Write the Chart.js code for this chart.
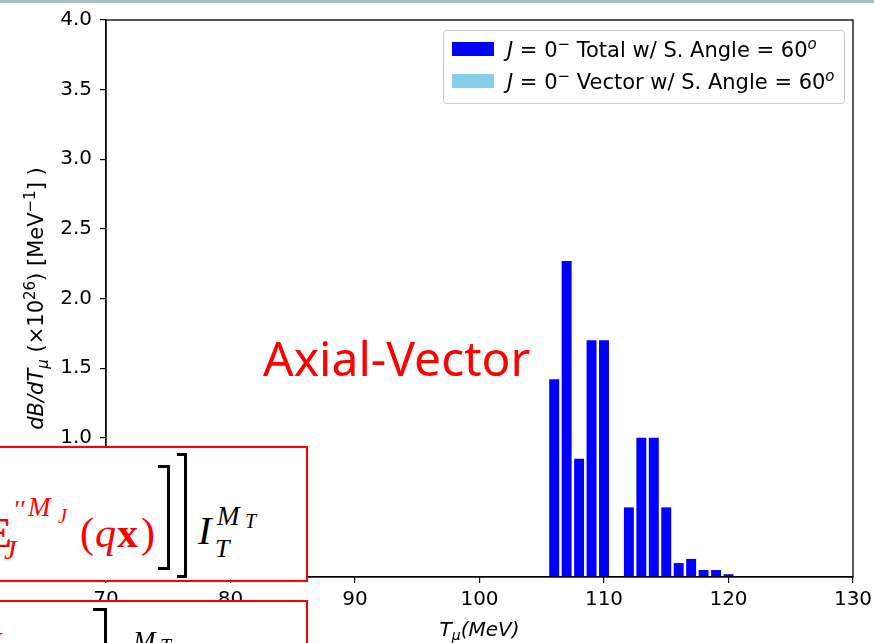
<!DOCTYPE html>
<html>
<head>
<meta charset="utf-8">
<script src="https://cdn.jsdelivr.net/npm/chart.js@4.4.1/dist/chart.umd.min.js"></script>
<style>
  html, body { margin: 0; padding: 0; background: #fff; }
  #wrap { position: relative; width: 874px; height: 643px; overflow: hidden; background: #fff; }
  #chart { position: absolute; left: 0; top: 0; }
  .topline { position: absolute; left: 0; top: 0; width: 874px; height: 3px; background: #a9bccb; }
  .tag { position: absolute; left: 263px; top: 334px; font-family: "Noto Sans", sans-serif; font-size: 48px; color: #ff0000; white-space: nowrap; line-height: 1; }
  .box { position: absolute; left: -4px; width: 312px; border: 2px solid #ff0000; background: #fff; box-sizing: border-box; }
  .m { position: absolute; font-family: "Liberation Serif", serif; font-style: italic; line-height: 1; white-space: nowrap; }
  .red { color: #ff0000; }
  .brk { position: absolute; border: 3px solid #000; border-left: none; box-sizing: border-box; }
</style>
</head>
<body>
<div id="wrap">
  <canvas id="chart" width="874" height="643"></canvas>
  <div class="topline"></div>
  <div class="tag">Axial-Vector</div>

  <div class="box" style="top:446px; height:136px;"></div>
  <div class="box" style="top:600px; height:60px;"></div>

  <!-- first operator line -->
  <span class="m red" style="left:-16px; top:512px; font-size:42px; font-weight:bold; font-style:normal;">E</span>
  <span class="m red" style="left:4px; top:536px; font-size:28px;">J</span>
  <span class="m red" style="left:13px; top:497px; font-size:26px;">′′</span>
  <span class="m red" style="left:28px; top:494px; font-size:27px;">M</span>
  <span class="m red" style="left:58px; top:506px; font-size:20px;">J</span>
  <span class="m red" style="left:80px; top:512px; font-size:42px; font-style:normal;">(</span>
  <span class="m red" style="left:95px; top:512px; font-size:42px;">q</span>
  <span class="m red" style="left:117px; top:512px; font-size:42px; font-style:normal; font-weight:bold;">x</span>
  <span class="m red" style="left:141px; top:512px; font-size:42px; font-style:normal;">)</span>
  <div class="brk" style="left:158px; top:465px; width:12px; height:105px;"></div>
  <div class="brk" style="left:177px; top:453px; width:10px; height:125px;"></div>
  <span class="m" style="left:198px; top:511px; font-size:40px;">I</span>
  <span class="m" style="left:215px; top:536px; font-size:26px;">T</span>
  <span class="m" style="left:217px; top:503px; font-size:27px;">M</span>
  <span class="m" style="left:245px; top:511px; font-size:20px;">T</span>

  <!-- second operator line, cut by the frame -->
  <span class="m red" style="left:-12px; top:628px; font-size:28px; font-weight:bold;">J</span>
  <div class="brk" style="left:93px; top:608px; width:14px; height:60px;"></div>
  <span class="m" style="left:133px; top:628px; font-size:27px;">M</span>
  <span class="m" style="left:160px; top:636px; font-size:20px;">T</span>
</div>

<script>
"use strict";

// muon kinetic energy bins (MeV) and branching-rate density (x10^26 / MeV)
var energies   = [106, 107, 108, 109, 110, 111, 112, 113, 114, 115, 116, 117, 118, 119, 120];
var totalRate  = [1.42, 2.27, 0.85, 1.70, 1.70, 0, 0.50, 1.00, 1.00, 0.50, 0.10, 0.13, 0.05, 0.05, 0.02];
var vectorRate = [0, 0, 0, 0, 0, 0, 0, 0, 0, 0, 0, 0, 0, 0, 0];

var xTicks = [70, 80, 90, 100, 110, 120, 130];
var yTicks = [0, 0.5, 1, 1.5, 2, 2.5, 3, 3.5, 4];

var FONT = "DejaVu Sans";
var FS = 20;      // tick labels
var FS_LEG = 21;  // legend and axis titles

var toPoints = function(vals) {
  return energies.map(function(e, i) { return { x: e, y: vals[i] }; });
};

// draw a run of text pieces: {t, it, sup, sub}
var drawRich = function(ctx, parts, x, y, size, align) {
  var fontFor = function(p) {
    var s = (p.sup || p.sub) ? Math.round(size * 0.7) : size;
    return (p.it ? "italic " : "") + s + "px '" + FONT + "'";
  };
  var w = 0;
  parts.forEach(function(p) { ctx.font = fontFor(p); w += ctx.measureText(p.t).width; });
  var cx = align === "center" ? x - w / 2 : x;
  ctx.textBaseline = "alphabetic";
  ctx.textAlign = "left";
  parts.forEach(function(p) {
    ctx.font = fontFor(p);
    var dy = p.sup ? -size * 0.38 : (p.sub ? size * 0.22 : 0);
    ctx.fillText(p.t, cx, y + dy);
    cx += ctx.measureText(p.t).width;
  });
  return w;
};

var legendRows = [
  { color: "#0000ff", parts: [{t: "J", it: true}, {t: " = 0"}, {t: "−", sup: true}, {t: " Total w/ S. Angle = 60"}, {t: "o", it: true, sup: true}] },
  { color: "#87ceeb", parts: [{t: "J", it: true}, {t: " = 0"}, {t: "−", sup: true}, {t: " Vector w/ S. Angle = 60"}, {t: "o", it: true, sup: true}] }
];

var frameAndLabels = {
  id: "frameAndLabels",
  afterDraw: function(chart) {
    var ctx = chart.ctx;
    var a = chart.chartArea;
    ctx.save();

    // full box around the axes
    ctx.strokeStyle = "#000";
    ctx.lineWidth = 1.3;
    ctx.strokeRect(a.left, a.top, a.right - a.left, a.bottom - a.top);

    // legend
    ctx.fillStyle = "rgba(255,255,255,0.8)";
    ctx.strokeStyle = "#cccccc";
    ctx.lineWidth = 1;
    ctx.beginPath();
    ctx.roundRect(443.5, 30.5, 401, 73, 3);
    ctx.fill();
    ctx.stroke();
    legendRows.forEach(function(row, i) {
      var yy = 42 + i * 32;
      ctx.fillStyle = row.color;
      ctx.fillRect(452, yy, 42, 14);
      ctx.fillStyle = "#000";
      drawRich(ctx, row.parts, 507, yy + 15, FS_LEG, "left");
    });

    // axis titles
    ctx.fillStyle = "#000";
    drawRich(ctx, [{t: "T", it: true}, {t: "μ", it: true, sub: true}, {t: "(MeV)", it: true}],
      (a.left + a.right) / 2, 636, FS, "center");

    ctx.translate(43, (a.top + a.bottom) / 2);
    ctx.rotate(-Math.PI / 2);
    drawRich(ctx, [
      {t: "dB/dT", it: true}, {t: "μ", it: true, sub: true}, {t: " (×10"}, {t: "26", sup: true},
      {t: ") [MeV"}, {t: "−1", sup: true}, {t: "] )"}
    ], 0, 0, FS_LEG, "center");

    ctx.restore();
  }
};

new Chart(document.getElementById("chart"), {
  type: "bar",
  data: {
    datasets: [{
      label: "Total",
      data: toPoints(totalRate),
      backgroundColor: "#0000ff",
      grouped: false,
      barPercentage: 0.8,
      categoryPercentage: 1
    }, {
      label: "Vector",
      data: toPoints(vectorRate),
      backgroundColor: "#87ceeb",
      grouped: false,
      barPercentage: 0.8,
      categoryPercentage: 1
    }]
  },
  options: {
    responsive: false,
    animation: false,
    layout: { padding: { left: 0, top: 19, right: 21, bottom: 0 } },
    plugins: {
      legend: { display: false },
      tooltip: { enabled: false }
    },
    scales: {
      x: {
        type: "linear",
        offset: false,
        min: xTicks[0],
        max: xTicks[xTicks.length - 1],
        afterBuildTicks: function(s) { s.ticks = xTicks.map(function(v) { return { value: v }; }); },
        afterFit: function(s) { s.height = 66; s.paddingLeft = 0; s.paddingRight = 0; },
        ticks: { color: "#000", font: { family: FONT, size: FS }, padding: 5, maxRotation: 0 },
        grid: { drawOnChartArea: false, offset: false, tickLength: 6, color: "#000", lineWidth: 1.2 },
        border: { color: "#000", width: 1.3 }
      },
      y: {
        min: yTicks[0],
        max: yTicks[yTicks.length - 1],
        afterBuildTicks: function(s) { s.ticks = yTicks.map(function(v) { return { value: v }; }); },
        afterFit: function(s) { s.width = 106; },
        ticks: {
          color: "#000",
          font: { family: FONT, size: FS },
          padding: 8,
          callback: function(v) { return v.toFixed(1); }
        },
        grid: { drawOnChartArea: false, tickLength: 6, color: "#000", lineWidth: 1.2 },
        border: { color: "#000", width: 1.3 }
      }
    }
  },
  plugins: [frameAndLabels]
});
</script>
</body>
</html>
